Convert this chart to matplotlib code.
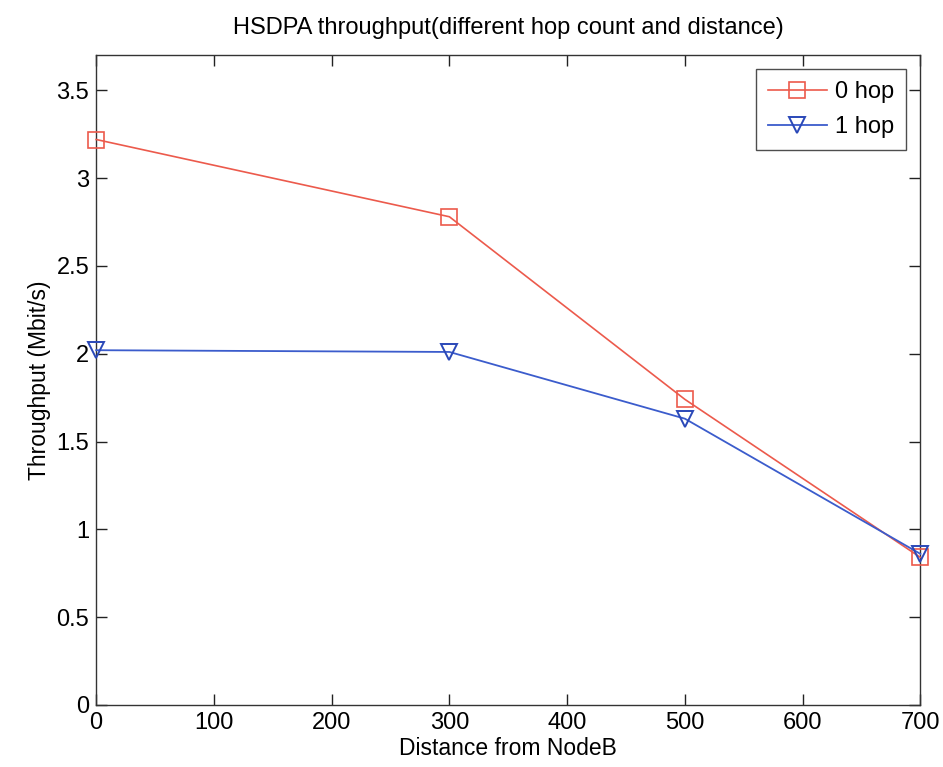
import matplotlib
matplotlib.use("Agg")
import matplotlib.pyplot as plt

plt.rcParams['font.family'] = ['Liberation Sans', 'DejaVu Sans']

distance = [0, 300, 500, 700]
hop0 = [3.22, 2.78, 1.74, 0.84]
hop1 = [2.02, 2.01, 1.63, 0.86]
series_labels = ['0 hop', '1 hop']
xticks = [0, 100, 200, 300, 400, 500, 600, 700]
yticks = [0, 0.5, 1, 1.5, 2, 2.5, 3, 3.5]
ytick_labels = ['0', '0.5', '1', '1.5', '2', '2.5', '3', '3.5']

fig = plt.figure(figsize=(9.43, 7.67), dpi=100)
ax = fig.add_axes([0.102, 0.081, 0.874, 0.847])

ax.plot(distance, hop0, color='#ec5a4c', lw=1.2, marker='s', ms=11,
        mfc='none', mec='#ec5a4c', mew=1.2, label=series_labels[0], clip_on=False, zorder=3)
ax.plot(distance, hop1, color='#3b5ccc', lw=1.3, marker='v', ms=12,
        mfc='none', mec='#2a48b8', mew=1.4, label=series_labels[1], clip_on=False, zorder=4)

ax.set_xlim(0, 700)
ax.set_ylim(0, 3.7)
ax.set_xticks(xticks)
ax.set_xticklabels([str(t) for t in xticks])
ax.set_yticks(yticks)
ax.set_yticklabels(ytick_labels)
ax.tick_params(direction='in', length=8, width=1, labelsize=17,
               top=True, right=True, pad=5, colors='#222222', labelcolor='black')
for s in ax.spines.values():
    s.set_color('#333333')
    s.set_linewidth(1.0)

ax.set_title('HSDPA throughput(different hop count and distance)', fontsize=17, pad=15)
ax.set_xlabel('Distance from NodeB', fontsize=16.5, labelpad=2)
ax.set_ylabel('Throughput (Mbit/s)', fontsize=16.5, labelpad=4)

leg = ax.legend(loc='upper right', fontsize=17, frameon=True, fancybox=False,
                edgecolor='#222222', handlelength=2.5, borderaxespad=0.6,
                handletextpad=0.35, labelspacing=0.55, borderpad=0.5)
leg.get_frame().set_linewidth(1.0)

fig.savefig('out.png', dpi=100, facecolor='white')
